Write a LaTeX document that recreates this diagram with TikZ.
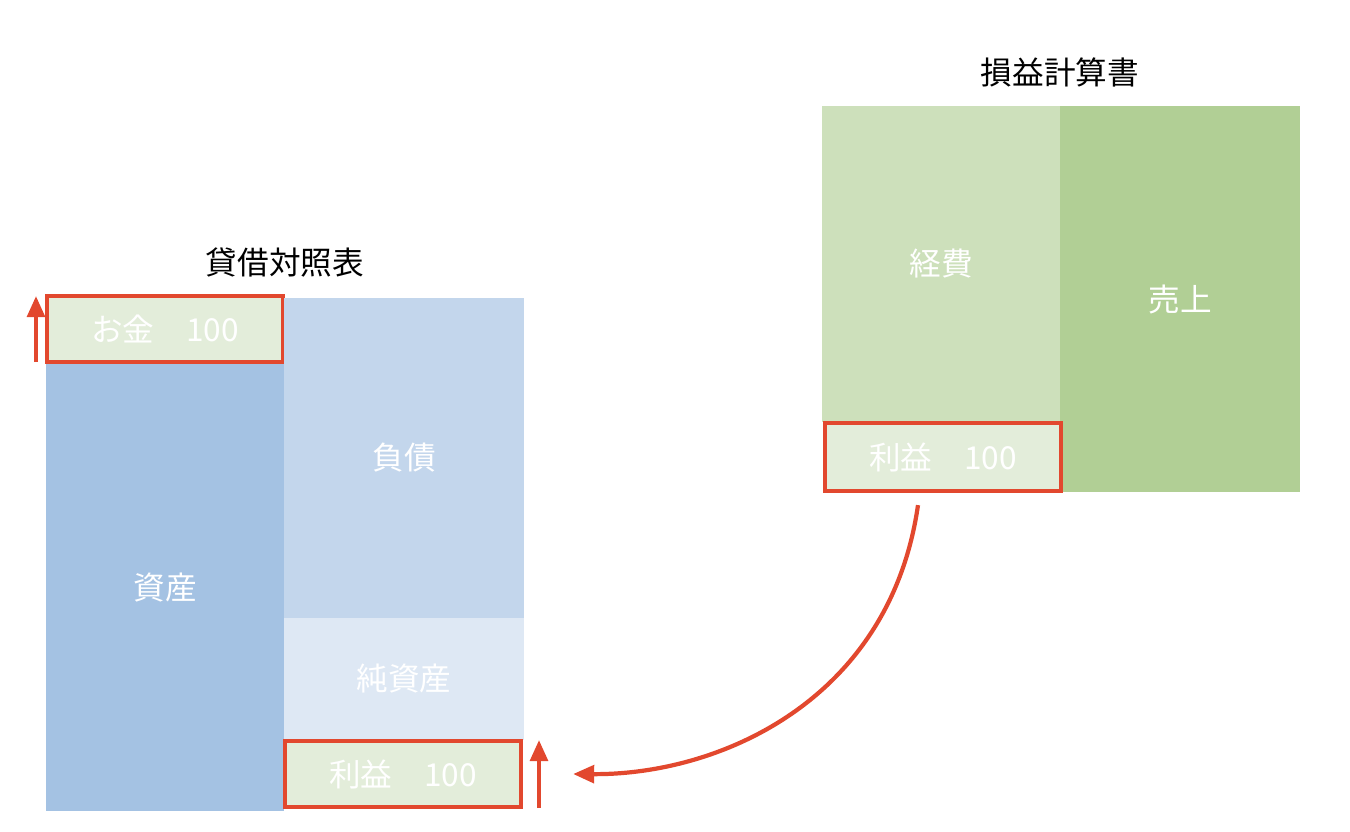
\documentclass[tikz,border=0pt]{standalone}
\usepackage{fontspec}
\setmainfont{Noto Sans CJK JP}
\usepackage{xcolor}
\usetikzlibrary{arrows.meta}
\definecolor{asset}{HTML}{A4C2E3}
\definecolor{debt}{HTML}{C3D6EC}
\definecolor{equity}{HTML}{DEE8F4}
\definecolor{cost}{HTML}{CDE0BB}
\definecolor{sales}{HTML}{B1CF95}
\definecolor{profit}{HTML}{E3EDDA}
\definecolor{hilite}{HTML}{E2482E}
\tikzstyle{block} = [rectangle, inner sep=0pt, text=white, font=\fontsize{18}{20}\selectfont]
\tikzstyle{hit} = [block, draw=hilite, line width=2.4pt]
\tikzstyle{title} = [font=\fontsize{18}{20}\selectfont]
\tikzstyle{arrow} = [draw=hilite, line width=2.4pt, -{Triangle[length=12pt,width=10pt]}]

\begin{document}
\begin{tikzpicture}[x=0.02cm, y=-0.02cm]
\useasboundingbox (0,0) rectangle (1350,832);

% balance sheet
\node (asset) [block, fill=asset, minimum width=238*0.02cm, minimum height=447*0.02cm] at (165,587.5) {資産};
\node (cash) [hit, fill=profit, minimum width=236*0.02cm, minimum height=66*0.02cm] at (165,329) {お金\quad 100};
\node (debt) [block, fill=debt, minimum width=240*0.02cm, minimum height=320*0.02cm] at (404,458) {負債};
\node (equity) [block, fill=equity, minimum width=240*0.02cm, minimum height=122*0.02cm] at (404,679) {純資産};
\node (gain) [hit, fill=profit, minimum width=236*0.02cm, minimum height=66*0.02cm] at (403,774) {利益\quad 100};
\node (bs) [title] at (285,262) {貸借対照表};

% income statement
\node (cost) [block, fill=cost, minimum width=238*0.02cm, minimum height=316*0.02cm] at (941,264) {経費};
\node (sales) [block, fill=sales, minimum width=240*0.02cm, minimum height=386*0.02cm] at (1180,299) {売上};
\node (profit) [hit, fill=profit, minimum width=236*0.02cm, minimum height=68*0.02cm] at (943,457) {利益\quad 100};
\node (pl) [title] at (1060,72) {損益計算書};

\coordinate (up1) at (36,362);
\coordinate (up2) at (539,808);
\draw [arrow] (up1) -- ++(0,-66);
\draw [arrow] (up2) -- ++(0,-68);
\draw [arrow] ([xshift=-25*0.02cm, yshift=-12*0.02cm]profit.south) .. controls (890,700) and (720,775) .. ([xshift=50*0.02cm]gain.east);

\end{tikzpicture}
\end{document}
